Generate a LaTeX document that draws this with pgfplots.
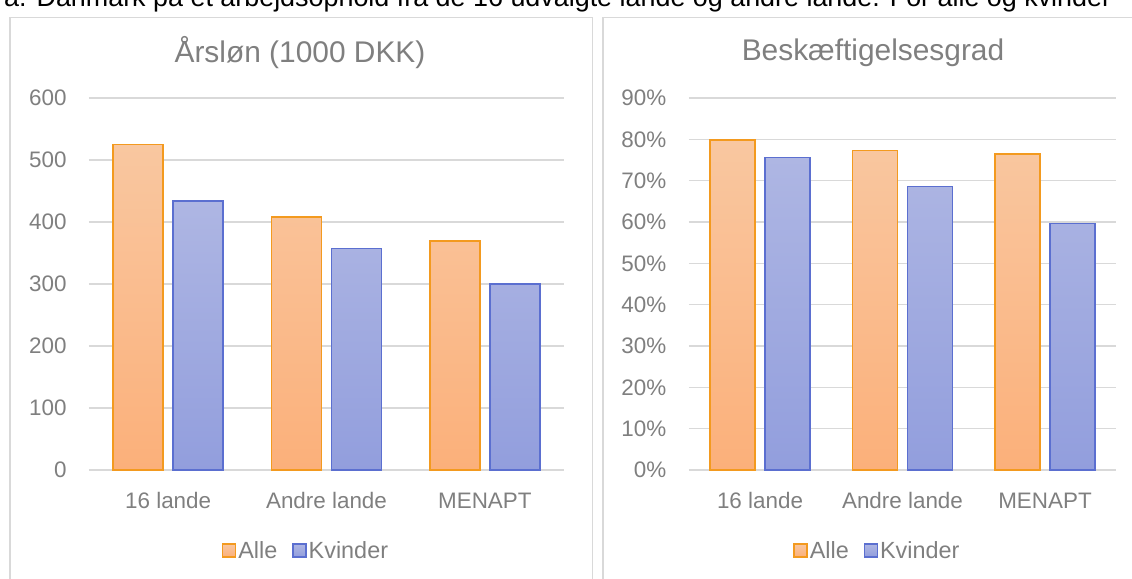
\documentclass[border=0pt]{standalone}
\usepackage{fontspec}
\setmainfont{Liberation Sans}
\usepackage{pgfplots}
\pgfplotsset{compat=1.18}

\definecolor{txt}{HTML}{7F7F7F}
\definecolor{gridc}{HTML}{D9D9D9}
\definecolor{alleEdge}{HTML}{F39A1F}
\definecolor{alleTop}{HTML}{F9C7A0}
\definecolor{alleBot}{HTML}{FBB07A}
\definecolor{kvEdge}{HTML}{5B6FD0}
\definecolor{kvTop}{HTML}{AEB6E3}
\definecolor{kvBot}{HTML}{929EDD}

\newcommand{\lblfont}{\fontsize{22.5}{27}\selectfont}

\pgfplotsset{
 boxlegend/.style={legend image code/.code={\draw[##1, line width=1.3bp] (0bp,-6.5bp) rectangle (13bp,6.5bp);}},
 alle/.style={draw=alleEdge, line width=1.5bp, top color=alleTop, bottom color=alleBot, boxlegend},
 kvinder/.style={draw=kvEdge, line width=1.5bp, top color=kvTop, bottom color=kvBot, boxlegend},
 panel/.style={
  scale only axis, anchor=south west,
  ymin=0, xmin=-0.5, xmax=2.5,
  xtick={0,1,2}, xticklabels={16 lande,Andre lande,MENAPT},
  axis line style={draw=none}, major tick length=0pt,
  ymajorgrids, grid style={gridc, line width=1.3bp},
  ticklabel style={font=\lblfont, text=txt},
  yticklabel style={xshift=-19bp},
  xticklabel style={yshift=-18bp, text height=17bp, text depth=0bp},
  /pgf/number format/assume math mode=true,
  legend style={draw=none, fill=none, font=\fontsize{23.5}{28}\selectfont, text=txt, anchor=center,
    legend columns=2, /tikz/every even column/.append style={column sep=13bp},
    nodes={inner sep=2bp}},
  clip=false
}}

\begin{document}
\begin{tikzpicture}
\path[use as bounding box] (0,0) rectangle (1132bp,-579bp);

% heading line of the page, cut off at the top as in the source
\node[anchor=base west, inner sep=0, font=\fontsize{27}{32}\selectfont] at (4bp,-6bp)
  {a. Danmark på et arbejdsophold fra de 16 udvalgte lande og andre lande. For alle og kvinder};

\draw[gridc, line width=1.3bp] (10bp,-590bp) -- (10bp,-17.5bp) -- (592.5bp,-17.5bp) -- (592.5bp,-590bp);
\draw[gridc, line width=1.3bp] (603bp,-590bp) -- (603bp,-17.5bp) -- (1150bp,-17.5bp);

\node[font=\fontsize{30}{36}\selectfont, text=txt] at (300bp,-53bp) {Årsløn (1000 DKK)};
\node[font=\fontsize{30}{36}\selectfont, text=txt] at (873bp,-53bp) {Beskæftigelsesgrad};

\begin{axis}[panel, at={(89bp,-470bp)}, width=475bp, height=372bp,
  ymax=600, ytick={0,100,...,600},
  ybar=10bp, bar width=50bp,
  legend style={at={(0.457,-0.216)}}]
\addplot[alle] coordinates {(0,525) (1,408) (2,369)};
\addlegendentry{Alle}
\addplot[kvinder] coordinates {(0,434) (1,357) (2,300)};
\addlegendentry{Kvinder}
\end{axis}

\begin{axis}[panel, at={(688.75bp,-470bp)}, width=427.5bp, height=372bp,
  ymax=90, ytick={0,10,...,90},
  yticklabel={\pgfmathprintnumber{\tick}\%},
  ybar=10bp, bar width=45bp,
  legend style={at={(0.4415,-0.216)}}]
\addplot[alle] coordinates {(0,79.8) (1,77.3) (2,76.5)};
\addlegendentry{Alle}
\addplot[kvinder] coordinates {(0,75.6) (1,68.6) (2,59.6)};
\addlegendentry{Kvinder}
\end{axis}
\end{tikzpicture}
\end{document}
